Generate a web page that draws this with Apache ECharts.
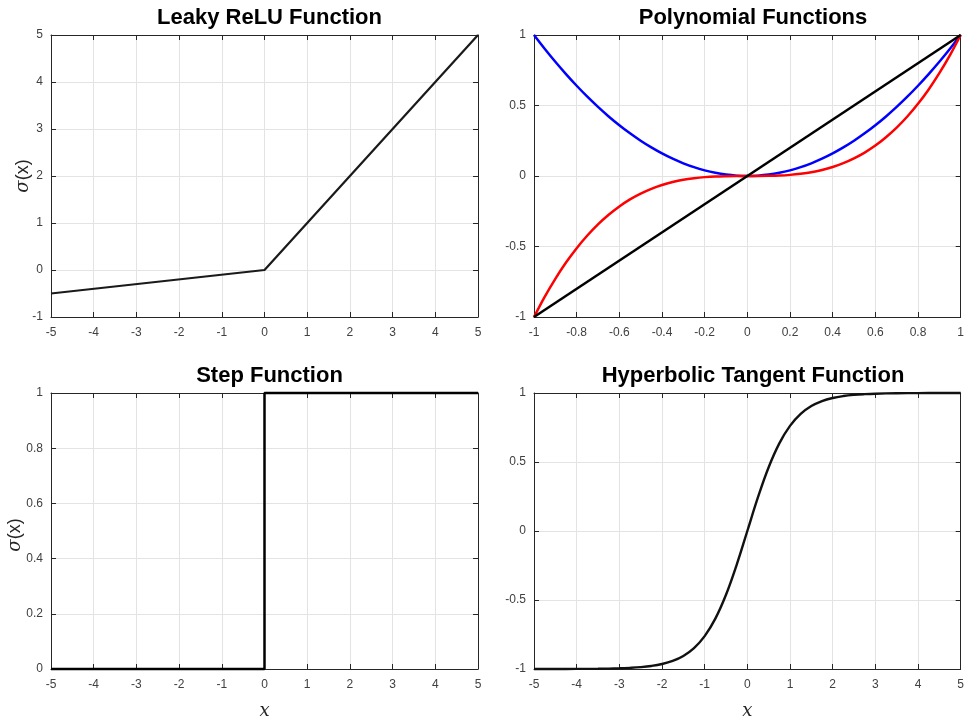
<!DOCTYPE html>
<html><head><meta charset="utf-8">
<script src="https://cdn.jsdelivr.net/npm/echarts@6/dist/echarts.min.js"></script>
<style>html,body{margin:0;padding:0;background:#fff}#c{width:967px;height:721px}</style>
</head><body><div id="c"></div>
<script>
// Leaky ReLU
const reluX = [-5, 0, 5];
const reluY = [-0.5, 0, 5];
// Polynomial functions (x from -1 to 1, step 0.05)
const polyX = [-1,-0.95,-0.9,-0.85,-0.8,-0.75,-0.7,-0.65,-0.6,-0.55,-0.5,-0.45,-0.4,-0.35,-0.3,-0.25,-0.2,-0.15,-0.1,-0.05,0,
  0.05,0.1,0.15,0.2,0.25,0.3,0.35,0.4,0.45,0.5,0.55,0.6,0.65,0.7,0.75,0.8,0.85,0.9,0.95,1];
const quadY = [1,0.9025,0.81,0.7225,0.64,0.5625,0.49,0.4225,0.36,0.3025,0.25,0.2025,0.16,0.1225,0.09,0.0625,0.04,0.0225,0.01,0.0025,0,
  0.0025,0.01,0.0225,0.04,0.0625,0.09,0.1225,0.16,0.2025,0.25,0.3025,0.36,0.4225,0.49,0.5625,0.64,0.7225,0.81,0.9025,1];
const cubeY = [-1,-0.857,-0.729,-0.614,-0.512,-0.422,-0.343,-0.275,-0.216,-0.166,-0.125,-0.091,-0.064,-0.043,-0.027,-0.016,-0.008,-0.003,-0.001,0,0,
  0,0.001,0.003,0.008,0.016,0.027,0.043,0.064,0.091,0.125,0.166,0.216,0.275,0.343,0.422,0.512,0.614,0.729,0.857,1];
const linX = [-1, 1];
const linY = [-1, 1];
// Step function
const stepX = [-5, 0, 0, 5];
const stepY = [0, 0, 1, 1];
// Hyperbolic tangent
const tanhX = [-5,-4.5,-4,-3.5,-3,-2.75,-2.5,-2.25,-2,-1.75,-1.5,-1.25,-1,-0.75,-0.5,-0.25,0,
  0.25,0.5,0.75,1,1.25,1.5,1.75,2,2.25,2.5,2.75,3,3.5,4,4.5,5];
const tanhY = [-0.9999,-0.9998,-0.9993,-0.9982,-0.9951,-0.9918,-0.9866,-0.978,-0.964,-0.9414,-0.9051,-0.8483,-0.7616,-0.6351,-0.4621,-0.2449,0,
  0.2449,0.4621,0.6351,0.7616,0.8483,0.9051,0.9414,0.964,0.978,0.9866,0.9918,0.9951,0.9982,0.9993,0.9998,0.9999];

const titles = ['Leaky ReLU Function','Polynomial Functions','Step Function','Hyperbolic Tangent Function'];
const grids = [
  {left:51, top:35, width:427, height:282},
  {left:534, top:35, width:428, height:282},
  {left:51, top:393, width:427, height:284},
  {left:534, top:393, width:428, height:284}
];
const xr = [[-5,5,1],[-1,1,0.2],[-5,5,1],[-5,5,1]];
const yr = [[-1,5,1],[-1,1,0.5],[0,1,0.2],[-1,1,0.5]];
const zip = (a,b)=>a.map((v,i)=>[v,b[i]]);

const axColor = '#262626';
const labelStyle = {color:'#404040', fontSize:12, fontFamily:'Liberation Sans, Arial, sans-serif'};
const xAxis = [], yAxis = [];
grids.forEach((g,i)=>{
  xAxis.push({type:'value', gridIndex:i, min:xr[i][0], max:xr[i][1], interval:xr[i][2],
    axisLine:{show:true, onZero:false, lineStyle:{color:axColor}},
    axisTick:{show:true, inside:true, length:5, lineStyle:{color:axColor}},
    axisLabel:Object.assign({margin:10, showMinLabel:true, showMaxLabel:true}, labelStyle),
    splitLine:{show:true, lineStyle:{color:'#e3e3e3'}},
    name: (i>=2)?'x':'', nameLocation:'middle', nameGap:33,
    nameTextStyle:{fontFamily:'DejaVu Serif, serif', fontStyle:'italic', fontSize:18, color:'#262626'}
  });
  xAxis.push({type:'value', gridIndex:i, position:'top', min:xr[i][0], max:xr[i][1], interval:xr[i][2],
    axisLine:{show:true, onZero:false, lineStyle:{color:axColor}},
    axisTick:{show:true, inside:true, length:5, lineStyle:{color:axColor}},
    axisLabel:{show:false}, splitLine:{show:false}});
  yAxis.push({type:'value', gridIndex:i, min:yr[i][0], max:yr[i][1], interval:yr[i][2],
    axisLine:{show:true, onZero:false, lineStyle:{color:axColor}},
    axisTick:{show:true, inside:true, length:5, lineStyle:{color:axColor}},
    axisLabel:Object.assign({margin:8, showMinLabel:true, showMaxLabel:true}, labelStyle),
    splitLine:{show:true, lineStyle:{color:'#e3e3e3'}}
  });
  yAxis.push({type:'value', gridIndex:i, position:'right', min:yr[i][0], max:yr[i][1], interval:yr[i][2],
    axisLine:{show:true, onZero:false, lineStyle:{color:axColor}},
    axisTick:{show:true, inside:true, length:5, lineStyle:{color:axColor}},
    axisLabel:{show:false}, splitLine:{show:false}});
});

const mk = (gi, data, color, w, smooth) => ({type:'line', xAxisIndex:gi*2, yAxisIndex:gi*2, data, showSymbol:false, symbol:'none',
  lineStyle:{color, width:w}, smooth:smooth||false, animation:false, clip:false});

const series = [
  mk(0, zip(reluX, reluY), '#1a1a1a', 2.2),
  mk(1, zip(polyX, quadY), '#0000ff', 2.5, 0.3),
  mk(1, zip(polyX, cubeY), '#ff0000', 2.5, 0.3),
  mk(1, zip(linX, linY), '#000000', 2.5),
  mk(2, zip(stepX, stepY), '#000000', 2.5),
  mk(3, zip(tanhX, tanhY), '#111111', 2.4, 0.4)
];

const title = titles.map((t,i)=>({text:t, left:grids[i].left + grids[i].width/2, top: grids[i].top - 33, textAlign:'center',
  textStyle:{fontFamily:'Liberation Sans, Arial, sans-serif', fontWeight:'bold', fontSize:22, color:'#000'}}));

const sigmaRich = {s:{fontFamily:'DejaVu Serif', fontStyle:'italic', fontSize:18, fill:'#262626'},
                   p:{fontFamily:'Liberation Sans', fontSize:18, fill:'#262626'}};
const sigmaX = [14, 6];
const graphic = [0,2].map((i,k)=>({type:'text', rotation:Math.PI/2, x:sigmaX[k], y:grids[i].top + grids[i].height/2,
  style:{text:'{s|σ}{p|(x)}', rich:sigmaRich, align:'center', verticalAlign:'top', fill:'#262626'}}));

const chart = echarts.init(document.getElementById('c'), null, {renderer:'canvas'});
chart.setOption({animation:false, backgroundColor:'#fff', title, grid:grids, xAxis, yAxis, series, graphic});
</script></body></html>
